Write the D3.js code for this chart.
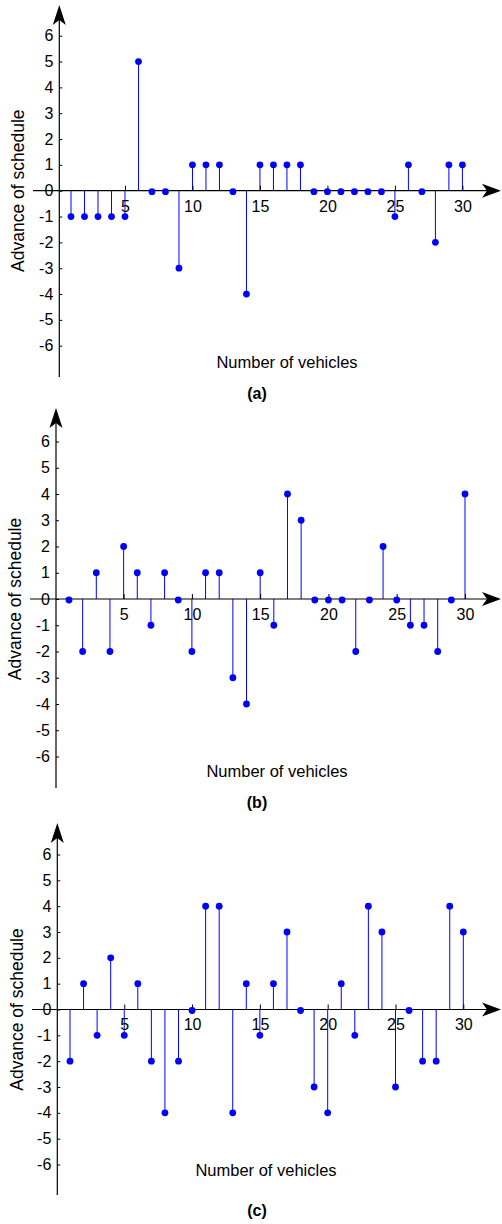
<!DOCTYPE html>
<html>
<head>
<meta charset="utf-8">
<script src="https://cdn.jsdelivr.net/npm/d3@7"></script>
<style>
  html, body { margin: 0; padding: 0; background: #fff; }
  svg { display: block; }
  text { font-family: "Liberation Sans", Arial, sans-serif; fill: #000; }
</style>
</head>
<body>
<svg id="chart" width="502" height="1224"></svg>
<script>
// ---------- data ----------
const vehicles = [1,2,3,4,5,6,7,8,9,10,11,12,13,14,15,16,17,18,19,20,21,22,23,24,25,26,27,28,29,30];
const advanceA = [-1,-1,-1,-1,-1,5,0,0,-3,1,1,1,0,-4,1,1,1,1,0,0,0,0,0,0,-1,1,0,-2,1,1];
const advanceB = [0,-2,1,-2,2,1,-1,1,0,-2,1,1,-3,-4,1,-1,4,3,0,0,0,-2,0,2,0,-1,-1,-2,0,4];
const advanceC = [-2,1,-1,2,-1,1,-2,-4,-2,0,4,4,-4,1,-1,1,3,0,-3,-4,1,-1,4,3,-3,0,-2,-2,4,3];
const xTickValues = [5,10,15,20,25,30];
const yTickValues = [-6,-5,-4,-3,-2,-1,0,1,2,3,4,5,6];
const xTitle = "Number of vehicles";
const yTitle = "Advance of schedule";
const captions = ["(a)", "(b)", "(c)"];

// ---------- layout (pixel geometry of each panel) ----------
const layouts = [
  { values: advanceA, x1: 71,  x30: 462.4, y6: 35.7, ym6: 345.7, yAxisX: 59.3, yTop: 5,   yBottom: 377,  xLeft: 33, xTitleX: 287, xTitleY: 368,  yTitleX: 18, capY: 399 },
  { values: advanceB, x1: 69,  x30: 465,   y6: 441.5, ym6: 756.5, yAxisX: 56,  yTop: 408, yBottom: 788,  xLeft: 30, xTitleX: 277, xTitleY: 777,  yTitleX: 15, capY: 808 },
  { values: advanceC, x1: 70,  x30: 463.3, y6: 854.5, ym6: 1164.5, yAxisX: 57.3, yTop: 823, yBottom: 1195, xLeft: 32, xTitleX: 266, xTitleY: 1176, yTitleX: 17, capY: 1216 }
];

const svg = d3.select("#chart");
const blue = "#0000ff";

layouts.forEach((L, i) => {
  const g = svg.append("g");
  const x = d3.scaleLinear().domain([1, 30]).range([L.x1, L.x30]);
  const y = d3.scaleLinear().domain([-6, 6]).range([L.ym6, L.y6]);
  const y0 = y(0);
  const data = vehicles.map((v, k) => ({ v, a: L.values[k] }));

  // stems
  g.selectAll("line.stem").data(data).join("line")
    .attr("class", "stem")
    .attr("x1", d => x(d.v)).attr("x2", d => x(d.v))
    .attr("y1", y0).attr("y2", d => y(d.a))
    .attr("stroke", blue).attr("stroke-width", 1);

  // x axis line + arrow
  g.append("line")
    .attr("x1", L.xLeft).attr("x2", 496)
    .attr("y1", y0).attr("y2", y0)
    .attr("stroke", "#000").attr("stroke-width", 1.2);
  const tipX = 501;
  g.append("path")
    .attr("d", `M${tipX},${y0} L${tipX - 19},${y0 - 7} L${tipX - 14},${y0} L${tipX - 19},${y0 + 7} Z`)
    .attr("fill", "#000");

  // y axis line + arrow
  g.append("line")
    .attr("x1", L.yAxisX).attr("x2", L.yAxisX)
    .attr("y1", L.yTop + 8).attr("y2", L.yBottom)
    .attr("stroke", "#000").attr("stroke-width", 1.2);
  g.append("path")
    .attr("d", `M${L.yAxisX},${L.yTop} L${L.yAxisX - 6.5},${L.yTop + 20} L${L.yAxisX},${L.yTop + 15} L${L.yAxisX + 6.5},${L.yTop + 20} Z`)
    .attr("fill", "#000");

  // y axis ticks & labels
  const yAxis = d3.axisLeft(y)
    .tickValues(yTickValues)
    .tickFormat(d => String(d))
    .tickSizeInner(-3)
    .tickSizeOuter(0)
    .tickPadding(6);
  const gy = g.append("g").attr("transform", `translate(${L.yAxisX},0)`).call(yAxis);
  gy.select(".domain").remove();
  gy.selectAll("line").attr("stroke", "#000");
  gy.selectAll("text").attr("font-size", 16).attr("font-family", '"Liberation Sans", Arial, sans-serif');

  // x axis ticks & labels
  const xAxis = d3.axisBottom(x)
    .tickValues(xTickValues)
    .tickFormat(d => String(d))
    .tickSizeInner(-5)
    .tickSizeOuter(0)
    .tickPadding(9.5);
  const gx = g.append("g").attr("transform", `translate(0,${y0})`).call(xAxis);
  gx.select(".domain").remove();
  gx.selectAll("line").attr("stroke", "#000");
  gx.selectAll("text").attr("font-size", 16).attr("font-family", '"Liberation Sans", Arial, sans-serif');

  // dots
  g.selectAll("circle.dot").data(data).join("circle")
    .attr("class", "dot")
    .attr("cx", d => x(d.v)).attr("cy", d => y(d.a) + (d.a === 0 ? 1 : 0))
    .attr("r", 3.4)
    .attr("fill", blue);

  // titles
  g.append("text")
    .attr("x", L.xTitleX).attr("y", L.xTitleY)
    .attr("text-anchor", "middle")
    .attr("font-size", 16.5)
    .text(xTitle);
  g.append("text")
    .attr("transform", `translate(${L.yTitleX},${y0}) rotate(-90)`)
    .attr("text-anchor", "middle")
    .attr("dominant-baseline", "central")
    .attr("font-size", 17.5)
    .text(yTitle);
  g.append("text")
    .attr("x", 257).attr("y", L.capY)
    .attr("text-anchor", "middle")
    .attr("font-size", 16)
    .attr("font-weight", "bold")
    .text(captions[i]);
});
</script>
</body>
</html>
